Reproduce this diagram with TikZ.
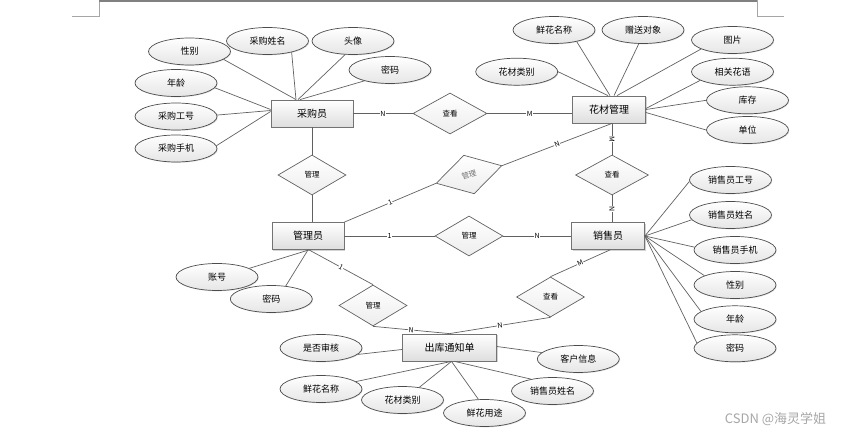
\documentclass[tikz,border=0pt]{standalone}
\usepackage{fontspec}
\setmainfont{Noto Sans CJK SC}
\usetikzlibrary{shapes.geometric,shadows,calc}
\begin{document}
\begin{tikzpicture}[x=1pt,y=-1pt,
  ln/.style={draw=black!62, line width=0.7pt},
  frm/.style={draw=black!35, line width=0.6pt},
  ent/.style={rectangle, draw=black!55, line width=0.8pt, top color=white, bottom color=black!13,
    minimum height=27pt, inner sep=0pt, font=\fontsize{10}{12}\selectfont,
    drop shadow={shadow xshift=1.2pt, shadow yshift=-1.2pt, opacity=0.35}},
  attr/.style={ellipse, draw=black!70, line width=0.7pt, top color=white, bottom color=black!10,
    minimum width=82pt, minimum height=27pt, inner sep=0pt, font=\fontsize{9}{11}\selectfont,
    drop shadow={shadow xshift=0.8pt, shadow yshift=-0.8pt, opacity=0.25}},
  rel/.style={diamond, draw=black!62, line width=0.7pt, top color=white, bottom color=black!7,
    minimum width=70pt, minimum height=40pt, inner sep=0pt, font=\fontsize{7.5}{9}\selectfont},
  lab/.style={fill=white, inner sep=0.5pt, font=\fontsize{7}{8}\selectfont},
]
\useasboundingbox (0,0) rectangle (846,436);
% page corner marks
\draw[frm] (72,16) -- (99,16) -- (99,0);
\draw[draw=black!50, line width=1.2pt] (99,1) -- (757,1);
\draw[frm] (757,0) -- (757,16) -- (784,16);

% entities
\node[ent, minimum width=82pt] (buyer) at (312,113.5) {采购员};
\node[ent, minimum width=73pt] (flower) at (609,109.5) {花材管理};
\node[ent, minimum width=72pt] (admin) at (308,236) {管理员};
\node[ent, minimum width=73pt] (sales) at (608,236) {销售员};
\node[ent, minimum width=94pt] (order) at (449.5,347.5) {出库通知单};

% relationships
\node[rel, minimum width=74pt, minimum height=41pt] (r1) at (450,113.5) {查看};
\node[rel, minimum width=68pt] (r2) at (312,175) {管理};
\node[rel, minimum width=68pt, rotate=15, text=black!55] (r3) at (469,174.5) {管理};
\node[rel, minimum width=73pt] (r4) at (612,175) {查看};
\node[rel, minimum width=68pt] (r5) at (469,236) {管理};
\node[rel, minimum width=68pt, minimum height=41pt] (r6) at (373,305.5) {管理};
\node[rel, minimum width=68pt] (r7) at (550.5,297) {查看};

% relationship connectors
\draw[ln] (buyer.east |- r1) -- node[lab]{N} (r1.west);
\draw[ln] (r1.east) -- node[lab]{M} (r1.east -| flower.west);
\draw[ln] (buyer.south -| r2) -- (r2.north);
\draw[ln] (r2.south) -- (r2.south |- admin.north);
\draw[ln] (admin.north east) -- node[lab,sloped]{1} (r3.west);
\draw[ln] (r3.east) -- node[lab,sloped]{N} (flower.south -| r4);
\draw[ln] (flower.south -| r4) -- node[lab,sloped]{M} (r4.north);
\draw[ln] (r4.south) -- node[lab,sloped]{N} (r4.south |- sales.north);
\draw[ln] (admin.east) -- node[lab]{1} (r5.west);
\draw[ln] (r5.east) -- node[lab]{N} (sales.west);
\draw[ln] ([xshift=1pt]admin.south) -- node[lab,sloped]{1} (r6.north);
\draw[ln] (r6.south) -- node[lab,sloped]{N} (order.north);
\draw[ln] ([xshift=2pt]sales.south) -- node[lab,sloped]{M} (r7.north);
\draw[ln] (r7.south) -- node[lab,sloped]{N} (order.north);

% buyer attributes
\node[attr] (b1) at (189.5,51.5) {性别};
\node[attr] (b2) at (267.5,41) {采购姓名};
\node[attr] (b3) at (353,41) {头像};
\node[attr] (b4) at (390,70) {密码};
\node[attr] (b5) at (176,83) {年龄};
\node[attr] (b6) at (176,116.5) {采购工号};
\node[attr] (b7) at (176,148.5) {采购手机};
\draw[ln] (b1.-13) -- ([xshift=-16pt]buyer.north);
\draw[ln] (b2.-25) -- ([xshift=-16pt]buyer.north);
\draw[ln] (b3.-120) -- ([xshift=-14pt]buyer.north);
\draw[ln] (b4.-157) -- ([xshift=-12pt]buyer.north);
\draw[ln] (b5.-7) -- ([yshift=4pt]buyer.west);
\draw[ln] (b6.2) -- ([yshift=3pt]buyer.west);
\draw[ln] (b7.4) -- ([yshift=2pt]buyer.west);

% flower attributes
\node[attr] (f1) at (554,30) {鲜花名称};
\node[attr] (f2) at (643,30) {赠送对象};
\node[attr] (f3) at (732.5,40) {图片};
\node[attr] (f4) at (516.7,71.7) {花材类别};
\node[attr] (f5) at (732.5,71.7) {相关花语};
\node[attr] (f6) at (747.5,100.3) {库存};
\node[attr] (f7) at (747.5,130) {单位};
\draw[ln] (f1.-27) -- ([xshift=1pt]flower.north);
\draw[ln] (f2.-107) -- ([xshift=5pt]flower.north);
\draw[ln] (f4.0) -- ([xshift=-1pt]flower.north);
\draw[ln] (f3.-164) -- ([xshift=8pt]flower.north);
\draw[ln] (f5.-165) -- ([yshift=1pt]flower.east);
\draw[ln] (f6.180) -- (flower.east);
\draw[ln] (f7.180) -- ([yshift=-3pt]flower.east);

% admin attributes
\node[attr] (a1) at (217,277) {账号};
\node[attr] (a2) at (271.3,299) {密码};
\draw[ln] (a1.15) -- ([xshift=1pt]admin.south);
\draw[ln] (a2.42) -- (admin.south);

% sales attributes
\node[attr] (s1) at (730.5,180) {销售员工号};
\node[attr] (s2) at (730.5,215) {销售员姓名};
\node[attr] (s3) at (735,250) {销售员手机};
\node[attr] (s4) at (735,285) {性别};
\node[attr] (s5) at (735,319.3) {年龄};
\node[attr] (s6) at (735,348.3) {密码};
\draw[ln] (s1.-178) -- (sales.east);
\draw[ln] (s2.-173) -- (sales.east);
\draw[ln] (s3.176) -- (sales.east);
\draw[ln] (s4.163) -- (sales.east);
\draw[ln] (s5.167) -- (sales.east);
\draw[ln] (s6.172) -- (sales.east);

% order attributes
\node[attr] (o1) at (321,348) {是否审核};
\node[attr] (o2) at (321,389) {鲜花名称};
\node[attr] (o3) at (402.5,400) {花材类别};
\node[attr] (o4) at (484.5,413) {鲜花用途};
\node[attr] (o5) at (552.5,391) {销售员姓名};
\node[attr] (o6) at (578.3,359) {客户信息};
\draw[ln] (o1.-10) -- ([yshift=-2pt]order.west);
\draw[ln] (o2.12) -- ([xshift=2pt]order.south);
\draw[ln] (o3.37) -- ([xshift=2pt]order.south);
\draw[ln] (o4.114) -- ([xshift=2pt]order.south);
\draw[ln] (o5.151) -- ([xshift=5pt]order.south);
\draw[ln] (o6.170) -- ([yshift=1pt]order.east);

% watermark
\node[text=black!35, font=\fontsize{13}{15}\selectfont, inner sep=0pt] (wm) at (775.5,419.5) {CSDN @海灵学姐};
\end{tikzpicture}
\end{document}
